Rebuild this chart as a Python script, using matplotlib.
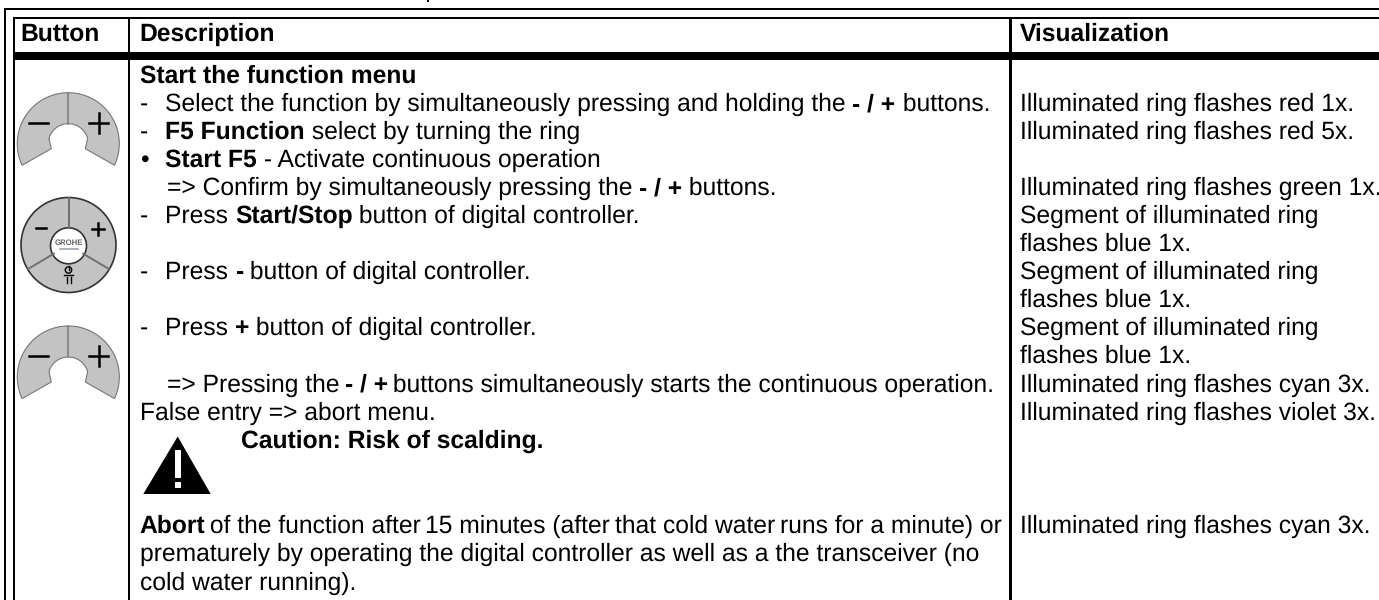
import matplotlib
matplotlib.use('Agg')
import matplotlib.pyplot as plt
import numpy as np
from matplotlib.patches import Circle, Polygon, Rectangle

plt.rcParams['font.family'] = ['Liberation Sans', 'DejaVu Sans']
# plain glyph widths, hinting makes the line lengths jump around
plt.rcParams['text.hinting'] = 'no_hinting'
plt.rcParams['text.hinting_factor'] = 8

W, H = 1379, 600
FS = 17.7

headers = ['Button', 'Description', 'Visualization']

# each line: (baseline row, x, runs of (text, bold))
desc_rows = [
    (83, 140, [('Start the function menu', True)]),
    (111, 140, [('-', False)]),
    (111, 165, [('Select the function by simultaneously pressing and holding the ', False), ('- / +', True), (' buttons.', False)]),
    (139, 140, [('-', False)]),
    (139, 165, [('F5 Function', True), (' select by turning the ring', False)]),
    (167, 140, [('•', False)]),
    (167, 165, [('Start F5', True), (' - Activate continuous operation', False)]),
    (195, 167, [('=> Confirm by simultaneously pressing the ', False), ('- / +', True), (' buttons.', False)]),
    (223, 140, [('-', False)]),
    (223, 165, [('Press ', False), ('Start/Stop', True), (' button of digital controller.', False)]),
    (279, 140, [('-', False)]),
    (279, 165, [('Press ', False), ('-', True), (' button of digital controller.', False)]),
    (335, 140, [('-', False)]),
    (335, 165, [('Press ', False), ('+', True), (' button of digital controller.', False)]),
    (420, 140, [('False entry => abort menu.', False)]),
    (448, 241, [('Caution: Risk of scalding.', True)]),
    (561, 140, [('prematurely by operating the digital controller as well as a the transceiver (no', False)]),
    (590, 140, [('cold water running).', False)]),
]

# these two come out too long, so they are pulled in a little at each run
tight_rows = [
    (392, 167, 1.5, [('=> Pressing the ', False), ('- / +', True), (' buttons simultaneously starts the continuous operation.', False)]),
    (533, 139, 2, [('Abort', False + True), (' of the function after ', False), ('15 minutes (after ', False),
                   ('that cold water ', False), ('runs for a minute) or', False)]),
]

vis_rows = [111, 139, 195, 223, 251, 279, 307, 335, 363, 392, 420, 533]
vis_text = [
    'Illuminated ring flashes red 1x.',
    'Illuminated ring flashes red 5x.',
    'Illuminated ring flashes green 1x.',
    'Segment of illuminated ring',
    'flashes blue 1x.',
    'Segment of illuminated ring',
    'flashes blue 1x.',
    'Segment of illuminated ring',
    'flashes blue 1x.',
    'Illuminated ring flashes cyan 3x.',
    'Illuminated ring flashes violet 3x.',
    'Illuminated ring flashes cyan 3x.',
]

fig = plt.figure(figsize=(W / 100, H / 100), dpi=100)
ax = fig.add_axes([0, 0, 1, 1])
ax.set_xlim(0, W)
ax.set_ylim(H, 0)
ax.axis('off')
renderer = fig.canvas.get_renderer()


def advance(s, weight):
    # trailing spaces get dropped when measuring, so measure with a dot behind
    a = ax.text(0, 0, s + '.', fontsize=FS, fontweight=weight)
    b = ax.text(0, 0, '.', fontsize=FS, fontweight=weight)
    w = a.get_window_extent(renderer).width - b.get_window_extent(renderer).width
    a.remove()
    b.remove()
    return w


def put(x, y, runs, tighten=0):
    for s, bold in runs:
        weight = 'bold' if bold else 'normal'
        ax.text(x, y, s, fontsize=FS, fontweight=weight, color='black', va='baseline', ha='left')
        x += advance(s, weight) - tighten


def rect(x0, y0, x1, y1):
    ax.add_patch(Rectangle((x0, y0), x1 - x0, y1 - y0, fc='black', ec='none'))


# table rules
rect(4, 8.3, W, 10)
rect(4, 8.3, 6, H)
rect(12.7, 17, W, 19)
rect(12.7, 17, 15, H)
rect(128.3, 17, 130, H)
rect(1009.3, 17, 1011.5, H)
rect(12.7, 52, W, 60)
rect(427, 0, 429, 2)

ax.text(20, 41, headers[0], fontsize=FS, fontweight='bold', va='baseline')
ax.text(139, 41, headers[1], fontsize=FS, fontweight='bold', va='baseline')
ax.text(1020, 41, headers[2], fontsize=FS, fontweight='bold', va='baseline')

for y, x, runs in desc_rows:
    put(x, y, runs)
for y, x, gap, runs in tight_rows:
    put(x, y, runs, gap)
for y, s in zip(vis_rows, vis_text):
    ax.text(1020, y, s, fontsize=FS, va='baseline')


def half_ring(cx, cy):
    r1, r2 = 51, 20
    # y axis points down, so 155 -> 385 degrees runs over the top of the ring
    t = np.radians(np.linspace(155, 385, 90))
    outer = np.c_[cx + r1 * np.cos(t), cy + r1 * np.sin(t)]
    t2 = np.radians(np.linspace(345, 195, 50))
    inner = np.c_[cx + r2 * np.cos(t2), cy + r2 * np.sin(t2)]
    pts = np.vstack([outer, [[cx + 17, cy + 5]], inner, [[cx - 17, cy + 5]]])
    ax.add_patch(Polygon(pts, closed=True, fc='#c3c3c3', ec='#777777', lw=0.8))
    ax.plot([cx, cx], [cy - r1, cy - r2], color='#808080', lw=1.2)
    ax.plot([cx - 39, cx - 20.6], [cy - 21, cy - 21], color='black', lw=1.8)
    ax.plot([cx + 21, cx + 40], [cy - 21, cy - 21], color='black', lw=1.8)
    ax.plot([cx + 30.5, cx + 30.5], [cy - 31, cy - 11], color='black', lw=1.8)


def round_button(cx, cy):
    ax.add_patch(Circle((cx, cy), 47.5, fc='#c3c3c3', ec='#333333', lw=1.2))
    for dx, dy in [(0, -1), (-0.86, 0.51), (0.86, 0.51)]:
        ax.plot([cx + 17 * dx, cx + 47 * dx], [cy + 17 * dy, cy + 47 * dy], color='#707070', lw=1.4)
    ax.add_patch(Circle((cx, cy + 0.8), 18, fc='white', ec='#333333', lw=1.2))
    ax.text(cx, cy - 2, 'GROHE', fontsize=5.6, fontweight='bold', color='#666666', ha='center', va='center')
    ax.plot([cx - 9, cx + 9], [cy + 4, cy + 4], color='#a0a6ae', lw=1.2)
    ax.plot([cx - 33, cx - 22.5], [cy - 17, cy - 17], color='black', lw=1.8)
    ax.plot([cx + 23, cx + 35], [cy - 16, cy - 16], color='black', lw=1.8)
    ax.plot([cx + 29, cx + 29], [cy - 22, cy - 10], color='black', lw=1.8)
    ax.add_patch(Circle((cx, cy + 25), 3.2, fc='none', ec='black', lw=1))
    ax.plot([cx, cx], [cy + 20.5, cy + 25], color='black', lw=1)
    ax.plot([cx - 4.5, cx + 4.5], [cy + 30, cy + 30], color='black', lw=1)
    ax.plot([cx - 2, cx - 2], [cy + 32, cy + 38], color='black', lw=1)
    ax.plot([cx + 2, cx + 2], [cy + 32, cy + 38], color='black', lw=1)


half_ring(68.3, 143.7)
round_button(68.5, 245)
half_ring(68.3, 377)

# warning sign
ax.add_patch(Polygon([[177.7, 436.5], [143.3, 494], [210.7, 494]], closed=True, fc='black', ec='none'))
ax.add_patch(Rectangle((174.8, 450), 6.6, 28, fc='white', ec='none'))
ax.add_patch(Rectangle((174.8, 481.5), 6.6, 6.5, fc='white', ec='none'))

fig.savefig('out.png', dpi=100)
